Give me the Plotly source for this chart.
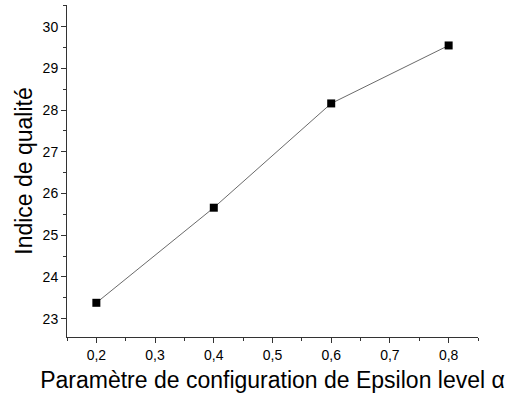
import plotly.graph_objects as go

x_vals = [0.2, 0.4, 0.6, 0.8]
y_vals = [23.38, 25.66, 28.16, 29.55]
x_ticks = [0.2, 0.3, 0.4, 0.5, 0.6, 0.7, 0.8]
y_ticks = [23, 24, 25, 26, 27, 28, 29, 30]

fig = go.Figure()
fig.add_trace(go.Scatter(
    x=x_vals, y=y_vals, mode="lines+markers",
    line=dict(color="#444444", width=0.8),
    marker=dict(symbol="square", size=8, color="black"),
    showlegend=False,
))

font = "Liberation Sans, Arial, sans-serif"
fig.update_layout(
    width=513, height=398,
    margin=dict(l=67, r=35, t=5, b=61),
    paper_bgcolor="white", plot_bgcolor="white",
    separators=", ",
    font=dict(family=font, color="black"),
    xaxis=dict(
        range=[0.15, 0.85], tickvals=x_ticks, tickformat=".1f",
        automargin=False,
        showgrid=False, zeroline=False,
        showline=True, linecolor="#333333", linewidth=1,
        ticks="outside", ticklen=5, tickcolor="#333333",
        minor=dict(dtick=0.05, tick0=0.15, ticks="outside", ticklen=3, tickcolor="#333333"),
        tickfont=dict(size=14, family=font),
        title=dict(text="Paramètre de configuration de Epsilon level α", font=dict(size=23, family=font), standoff=10),
    ),
    yaxis=dict(
        range=[22.56, 30.52], tickvals=y_ticks,
        automargin=False,
        showgrid=False, zeroline=False,
        showline=True, linecolor="#333333", linewidth=1,
        ticks="outside", ticklen=5, tickcolor="#333333",
        minor=dict(dtick=0.5, tick0=22.5, ticks="outside", ticklen=3, tickcolor="#333333"),
        tickfont=dict(size=14, family=font),
        title=dict(text="Indice de qualité", font=dict(size=23, family=font), standoff=3),
    ),
)
fig.write_html("out.html", config={"displayModeBar": False},
               post_script="document.body.style.margin='0';")
